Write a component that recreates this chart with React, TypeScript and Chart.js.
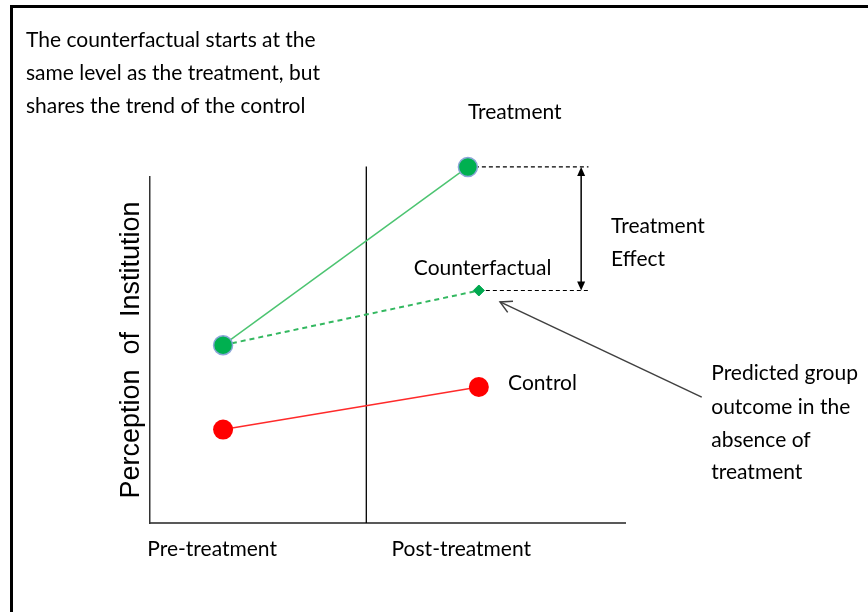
import React, { useEffect, useRef } from "react";
import { Chart, registerables } from "chart.js";

Chart.register(...registerables);

// ---- data (chart units) ----
const periodLabels = ["Pre-treatment", "Post-treatment"];
const periodTickX = [0.85, 4.26];

const treatmentX = [1, 4.35];
const treatmentY = [5.14, 10.29];
const counterfactualX = [1, 4.5];
const counterfactualY = [5.14, 6.72];
const controlX = [1, 4.5];
const controlY = [2.7, 3.93];

const dividerX = [2.96, 2.96];
const dividerY = [0, 10.3];
const effectLineEndX = 6.0;
const effectArrowX = 5.9;

const captionLines = [
  "The counterfactual starts at the",
  "same level as the treatment, but",
  "shares the trend of the control",
];

// text labels anchored in chart units: [text, x, y]
const pointLabels: [string, number, number][] = [
  ["Treatment", 4.35, 11.88],
  ["Counterfactual", 3.61, 7.37],
  ["Control", 4.9, 4.05],
  ["Treatment", 6.31, 8.58],
  ["Effect", 6.31, 7.63],
  ["Predicted group", 7.68, 4.34],
  ["outcome in the", 7.68, 3.35],
  ["absence of", 7.68, 2.4],
  ["treatment", 7.68, 1.47],
];

const pointerTail = [7.55, 3.64];
const pointerHead = [4.79, 6.39];

const toXY = (xs: number[], ys: number[]) => xs.map((x, i) => ({ x, y: ys[i] }));

const TEXT_FONT = "21px Lato";

const annotationPlugin = {
  id: "didAnnotations",
  afterDraw(chart: any) {
    const { ctx } = chart;
    const xs = chart.scales.x;
    const ys = chart.scales.y;
    ctx.save();

    // frame edges
    ctx.fillStyle = "#000";
    ctx.fillRect(10, 5, 3, 607);
    ctx.fillRect(10, 5, 858, 3);

    // caption
    ctx.font = TEXT_FONT;
    ctx.textBaseline = "middle";
    ctx.textAlign = "left";
    ctx.fillStyle = "#000";
    captionLines.forEach((t, i) => ctx.fillText(t, 26, 40 + i * 33));

    // labels
    pointLabels.forEach(([t, x, y]) => {
      ctx.fillText(t, xs.getPixelForValue(x), ys.getPixelForValue(y));
    });

    // vertical double arrow (treatment effect)
    const ax = xs.getPixelForValue(effectArrowX);
    const ay1 = ys.getPixelForValue(treatmentY[1]);
    const ay2 = ys.getPixelForValue(counterfactualY[1]);
    ctx.strokeStyle = "#000";
    ctx.lineWidth = 1.5;
    ctx.beginPath();
    ctx.moveTo(ax, ay1 + 6);
    ctx.lineTo(ax, ay2 - 6);
    ctx.stroke();
    ctx.beginPath();
    ctx.moveTo(ax, ay1);
    ctx.lineTo(ax - 4, ay1 + 9);
    ctx.lineTo(ax + 4, ay1 + 9);
    ctx.closePath();
    ctx.fill();
    ctx.beginPath();
    ctx.moveTo(ax, ay2);
    ctx.lineTo(ax - 4, ay2 - 9);
    ctx.lineTo(ax + 4, ay2 - 9);
    ctx.closePath();
    ctx.fill();

    // pointer arrow
    const tx = xs.getPixelForValue(pointerTail[0]);
    const ty = ys.getPixelForValue(pointerTail[1]);
    const hx = xs.getPixelForValue(pointerHead[0]);
    const hy = ys.getPixelForValue(pointerHead[1]);
    ctx.strokeStyle = "#404040";
    ctx.lineWidth = 1.5;
    ctx.beginPath();
    ctx.moveTo(tx, ty);
    ctx.lineTo(hx, hy);
    ctx.stroke();
    const ang = Math.atan2(ty - hy, tx - hx);
    const hl = 13;
    const spread = 0.5;
    ctx.beginPath();
    ctx.moveTo(hx + hl * Math.cos(ang - spread), hy + hl * Math.sin(ang - spread));
    ctx.lineTo(hx, hy);
    ctx.lineTo(hx + hl * Math.cos(ang + spread), hy + hl * Math.sin(ang + spread));
    ctx.stroke();

    ctx.restore();
  },
};

export default function App() {
  const canvasRef = useRef<HTMLCanvasElement | null>(null);

  useEffect(() => {
    document.body.style.margin = "0";
    const canvas = canvasRef.current;
    if (!canvas) return;
    const chart = new Chart(canvas, {
      type: "line",
      data: {
        datasets: [
          {
            label: "Treatment",
            data: toXY(treatmentX, treatmentY),
            borderColor: "#4cc471",
            borderWidth: 1.5,
            pointRadius: 9.5,
            pointBackgroundColor: "#00b050",
            pointBorderColor: "#8aa6d8",
            pointBorderWidth: 1.5,
            clip: false,
          },
          {
            label: "Counterfactual",
            data: toXY(counterfactualX, counterfactualY),
            borderColor: "#33b860",
            borderWidth: 2,
            borderDash: [5, 4],
            pointRadius: [0, 5.5],
            pointStyle: "rectRot",
            pointBackgroundColor: "#00a84f",
            pointBorderColor: "#00a84f",
            pointBorderWidth: 1,
            clip: false,
          },
          {
            label: "Control",
            data: toXY(controlX, controlY),
            borderColor: "#ff2a2a",
            borderWidth: 1.5,
            pointRadius: 10,
            pointBackgroundColor: "#ff0000",
            pointBorderColor: "#ff0000",
            pointBorderWidth: 0,
            clip: false,
          },
          {
            label: "Effect top",
            data: toXY([treatmentX[1], effectLineEndX], [treatmentY[1], treatmentY[1]]),
            borderColor: "#000",
            borderWidth: 1.2,
            borderDash: [4, 3],
            pointRadius: 0,
            clip: false,
          },
          {
            label: "Effect bottom",
            data: toXY([counterfactualX[1], effectLineEndX], [counterfactualY[1], counterfactualY[1]]),
            borderColor: "#000",
            borderWidth: 1.2,
            borderDash: [4, 3],
            pointRadius: 0,
            clip: false,
          },
          {
            label: "Treatment start",
            data: toXY(dividerX, dividerY),
            borderColor: "#000",
            borderWidth: 1.3,
            pointRadius: 0,
            clip: false,
          },
        ],
      },
      options: {
        responsive: false,
        animation: false,
        events: [],
        layout: { padding: { left: 0, right: 243, top: 177, bottom: 29 } },
        elements: { line: { tension: 0 } },
        plugins: {
          legend: { display: false },
          tooltip: { enabled: false },
        },
        scales: {
          x: {
            type: "linear",
            min: 0,
            max: 6.5,
            grid: { display: false, drawTicks: false },
            border: { display: true, color: "#595959", width: 2 },
            afterBuildTicks: (scale: any) => {
              scale.ticks = periodTickX.map((v) => ({ value: v }));
            },
            afterFit: (scale: any) => {
              scale.height = 60;
              scale.paddingLeft = 0;
              scale.paddingRight = 0;
            },
            ticks: {
              autoSkip: false,
              maxRotation: 0,
              padding: 14,
              color: "#000",
              font: { family: "Lato", size: 21 },
              callback: (_v: any, i: number) => periodLabels[i],
            },
          },
          y: {
            type: "linear",
            min: 0,
            max: 10,
            grid: { display: false, drawTicks: false },
            border: { display: true, color: "#333", width: 1.5 },
            ticks: { display: false },
            afterFit: (scale: any) => {
              scale.width = 150;
              scale.paddingTop = 0;
              scale.paddingBottom = 0;
            },
            title: {
              display: true,
              text: "Perception  of  Institution",
              color: "#000",
              font: { family: "'Liberation Sans', Arial, sans-serif", size: 27 },
              padding: { top: 115, bottom: 0 },
            },
          },
        },
      },
      plugins: [annotationPlugin],
    } as any);
    return () => chart.destroy();
  }, []);

  return (
    <div style={{ width: 868, height: 612, background: "#fff" }}>
      <canvas ref={canvasRef} width={868} height={612} style={{ display: "block" }} />
    </div>
  );
}
